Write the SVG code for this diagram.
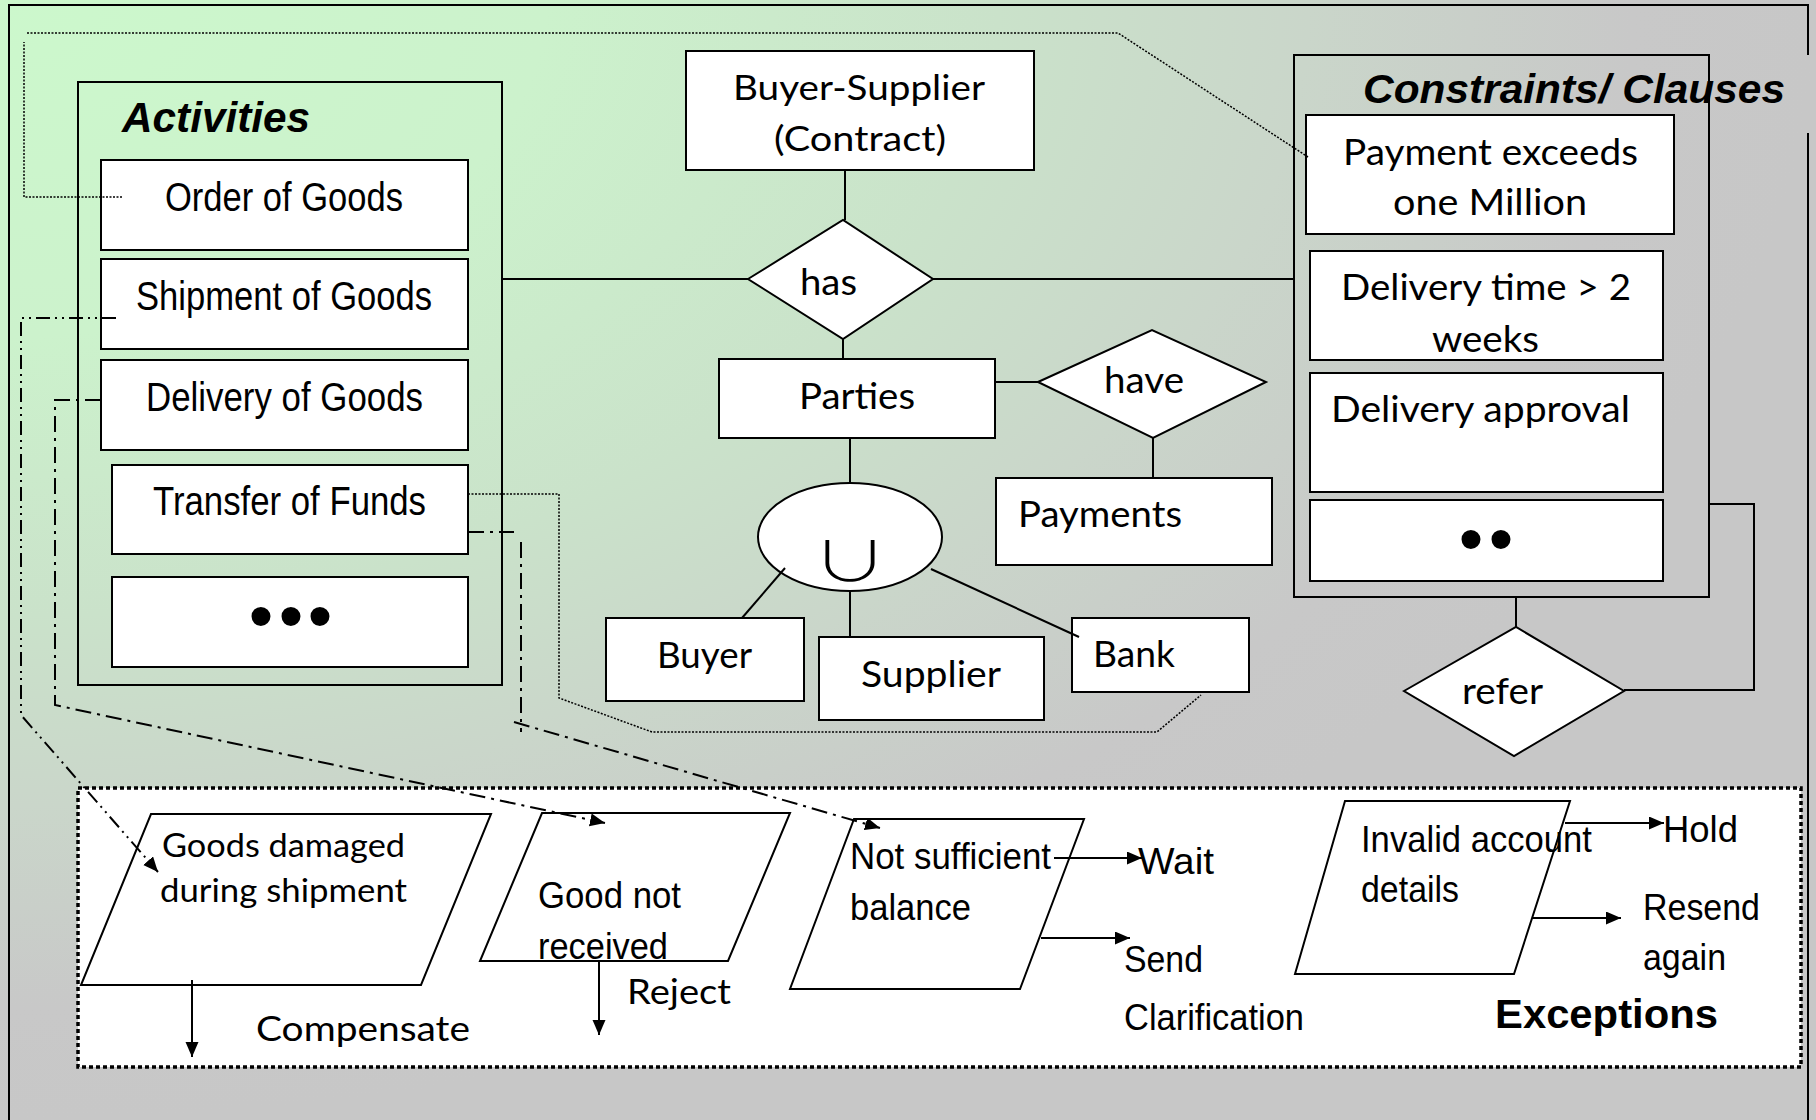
<svg xmlns="http://www.w3.org/2000/svg" width="1816" height="1120" viewBox="0 0 1816 1120">
<defs>
<radialGradient id="bg" cx="0" cy="0" r="1" gradientUnits="objectBoundingBox">
<stop offset="0" stop-color="#ccf8cc"/>
<stop offset="0.3" stop-color="#ccf2cc"/>
<stop offset="0.55" stop-color="#cae2ca"/>
<stop offset="0.72" stop-color="#cad6ca"/>
<stop offset="0.9" stop-color="#c8c8c8"/>
<stop offset="1" stop-color="#c7c7c7"/>
</radialGradient>
<marker id="ah" markerUnits="userSpaceOnUse" markerWidth="16" markerHeight="14" refX="15" refY="6.5" orient="auto">
<path d="M0,0 L15,6.5 L0,13 z" fill="#000"/>
</marker>
<style>
.box{fill:#fff;stroke:#000;stroke-width:2}
.grp{fill:none;stroke:#000;stroke-width:2}
.ln{fill:none;stroke:#000;stroke-width:2}
.dotl{fill:none;stroke:#000;stroke-width:1.5;stroke-dasharray:2 1.5}
.dd{fill:none;stroke:#000;stroke-width:2;stroke-dasharray:14 5 2 5 2 5}
.dash1{fill:none;stroke:#000;stroke-width:2;stroke-dasharray:16 6 3 6}
.exb{fill:#fff;stroke:#000;stroke-width:3.5;stroke-dasharray:4 3}
.ar{font-family:"Liberation Sans",Arial,sans-serif;fill:#000}
.cal{font-family:Lato,"Liberation Sans",sans-serif;fill:#000}
.bi{font-family:"Liberation Sans",Arial,sans-serif;font-weight:bold;font-style:italic;fill:#000}
.bul{font-family:"Liberation Sans",Arial,sans-serif;font-size:70px;text-anchor:middle;fill:#000}
</style>
</defs>
<rect x="0" y="0" width="1816" height="1120" fill="url(#bg)"/>
<path class="ln" d="M9,1120 V5 H1808 V55 M1808,133 V1120"/>

<g id="activities">
<rect class="grp" x="78" y="82" width="424" height="603"/>
<text class="bi" x="122" y="132" font-size="42" textLength="188" lengthAdjust="spacingAndGlyphs">Activities</text>
</g>
<g id="order-of-goods">
<rect class="box" x="101" y="160" width="367" height="90"/>
<text class="ar" x="165" y="211" font-size="40" textLength="238" lengthAdjust="spacingAndGlyphs">Order of Goods</text>
</g>
<g id="shipment-of-goods">
<rect class="box" x="101" y="259" width="367" height="90"/>
<text class="ar" x="136" y="310" font-size="40" textLength="296" lengthAdjust="spacingAndGlyphs">Shipment of Goods</text>
</g>
<g id="delivery-of-goods">
<rect class="box" x="101" y="360" width="367" height="90"/>
<text class="ar" x="146" y="411" font-size="40" textLength="277" lengthAdjust="spacingAndGlyphs">Delivery of Goods</text>
</g>
<g id="transfer-of-funds">
<rect class="box" x="112" y="465" width="356" height="89"/>
<text class="ar" x="153" y="515" font-size="40" textLength="273" lengthAdjust="spacingAndGlyphs">Transfer of Funds</text>
</g>
<g id="more-activities">
<rect class="box" x="112" y="577" width="356" height="90"/>
<text class="bul"><tspan x="261" y="640">•</tspan><tspan x="291" y="640">•</tspan><tspan x="320" y="640">•</tspan></text>
</g>

<g id="contract">
<rect class="box" x="686" y="51" width="348" height="119"/>
<text class="cal" x="733" y="100" font-size="35" textLength="252" lengthAdjust="spacingAndGlyphs">Buyer-Supplier</text>
<text class="cal" x="774" y="151" font-size="35" textLength="172" lengthAdjust="spacingAndGlyphs">(Contract)</text>
</g>
<g id="has">
<polygon class="box" points="748,279 843,220 933,279 843,339"/>
<text class="cal" x="800" y="295" font-size="37" textLength="57" lengthAdjust="spacingAndGlyphs">has</text>
</g>
<g id="parties">
<rect class="box" x="719" y="359" width="276" height="79"/>
<text class="cal" x="799" y="409" font-size="36" textLength="116" lengthAdjust="spacingAndGlyphs">Parties</text>
</g>
<g id="have">
<polygon class="box" points="1038,382 1152,330 1266,382 1153,438"/>
<text class="cal" x="1104" y="393" font-size="37" textLength="80" lengthAdjust="spacingAndGlyphs">have</text>
</g>
<g id="payments">
<rect class="box" x="996" y="478" width="276" height="87"/>
<text class="cal" x="1018" y="527" font-size="36" textLength="164" lengthAdjust="spacingAndGlyphs">Payments</text>
</g>
<g id="union">
<ellipse class="box" cx="850" cy="537" rx="92" ry="54"/>
<text transform="translate(850,581) scale(1,0.72)" x="0" y="0" font-family="'Noto Sans CJK JP','DejaVu Sans',sans-serif" font-size="76" font-weight="300" text-anchor="middle" fill="#000">∪</text>
</g>
<g id="buyer">
<rect class="box" x="606" y="618" width="198" height="83"/>
<text class="cal" x="657" y="668" font-size="36" textLength="95" lengthAdjust="spacingAndGlyphs">Buyer</text>
</g>
<g id="supplier">
<rect class="box" x="819" y="637" width="225" height="83"/>
<text class="cal" x="861" y="687" font-size="36" textLength="140" lengthAdjust="spacingAndGlyphs">Supplier</text>
</g>
<g id="bank">
<rect class="box" x="1072" y="618" width="177" height="74"/>
<text class="cal" x="1093" y="667" font-size="36" textLength="82" lengthAdjust="spacingAndGlyphs">Bank</text>
</g>

<g id="constraints">
<rect class="grp" x="1294" y="55" width="415" height="542"/>
<text class="bi" x="1363" y="103" font-size="41" textLength="422" lengthAdjust="spacingAndGlyphs">Constraints/ Clauses</text>
</g>
<g id="payment-exceeds">
<rect class="box" x="1306" y="115" width="368" height="119"/>
<text class="cal" x="1343" y="165" font-size="36" textLength="295" lengthAdjust="spacingAndGlyphs">Payment exceeds</text>
<text class="cal" x="1393" y="215" font-size="36" textLength="194" lengthAdjust="spacingAndGlyphs">one Million</text>
</g>
<g id="delivery-time">
<rect class="box" x="1310" y="251" width="353" height="109"/>
<text class="cal" x="1341" y="300" font-size="36" textLength="290" lengthAdjust="spacingAndGlyphs">Delivery time &gt; 2</text>
<text class="cal" x="1432" y="352" font-size="36" textLength="107" lengthAdjust="spacingAndGlyphs">weeks</text>
</g>
<g id="delivery-approval">
<rect class="box" x="1310" y="373" width="353" height="119"/>
<text class="cal" x="1331" y="422" font-size="36" textLength="299" lengthAdjust="spacingAndGlyphs">Delivery approval</text>
</g>
<g id="more-constraints">
<rect class="box" x="1310" y="500" width="353" height="81"/>
<text class="bul"><tspan x="1471" y="563">•</tspan><tspan x="1501" y="563">•</tspan></text>
</g>
<g id="refer">
<polygon class="box" points="1404,691 1516,627 1624,691 1514,756"/>
<text class="cal" x="1462" y="704" font-size="36" textLength="81" lengthAdjust="spacingAndGlyphs">refer</text>
</g>

<g id="exceptions">
<rect class="exb" x="78" y="788" width="1723" height="279"/>
<text class="ar" x="1495" y="1028" font-size="40" font-weight="bold" textLength="223" lengthAdjust="spacingAndGlyphs">Exceptions</text>
</g>
<g id="goods-damaged">
<polygon class="box" points="151,814 491,814 421,985 81,985"/>
<text class="cal" x="162" y="857" font-size="32" textLength="243" lengthAdjust="spacingAndGlyphs">Goods damaged</text>
<text class="cal" x="160" y="902" font-size="32" textLength="247" lengthAdjust="spacingAndGlyphs">during shipment</text>
<path class="ln" d="M192,980 V1057" marker-end="url(#ah)"/>
<text class="cal" x="256" y="1041" font-size="34" textLength="214" lengthAdjust="spacingAndGlyphs">Compensate</text>
</g>
<g id="good-not-received">
<polygon class="box" points="542,813 790,813 728,961 480,961"/>
<text class="ar" x="538" y="908" font-size="37" textLength="143" lengthAdjust="spacingAndGlyphs">Good not</text>
<text class="ar" x="538" y="959" font-size="37" textLength="130" lengthAdjust="spacingAndGlyphs">received</text>
<path class="ln" d="M599,961 V1035" marker-end="url(#ah)"/>
<text class="cal" x="627" y="1004" font-size="34" textLength="104" lengthAdjust="spacingAndGlyphs">Reject</text>
</g>
<g id="not-sufficient">
<polygon class="box" points="854,819 1084,819 1020,989 790,989"/>
<text class="ar" x="850" y="869" font-size="37" textLength="201" lengthAdjust="spacingAndGlyphs">Not sufficient</text>
<text class="ar" x="850" y="920" font-size="37" textLength="121" lengthAdjust="spacingAndGlyphs">balance</text>
<path class="ln" d="M1054,858 H1142" marker-end="url(#ah)"/>
<text class="ar" x="1138" y="874" font-size="36" textLength="76" lengthAdjust="spacingAndGlyphs">Wait</text>
<path class="ln" d="M1041,938 H1130" marker-end="url(#ah)"/>
<text class="ar" x="1124" y="972" font-size="37" textLength="79" lengthAdjust="spacingAndGlyphs">Send</text>
<text class="ar" x="1124" y="1030" font-size="37" textLength="180" lengthAdjust="spacingAndGlyphs">Clarification</text>
</g>
<g id="invalid-account">
<polygon class="box" points="1345,801 1570,801 1514,974 1295,974"/>
<text class="ar" x="1361" y="852" font-size="37" textLength="231" lengthAdjust="spacingAndGlyphs">Invalid account</text>
<text class="ar" x="1361" y="902" font-size="37" textLength="98" lengthAdjust="spacingAndGlyphs">details</text>
<path class="ln" d="M1565,823 H1664" marker-end="url(#ah)"/>
<text class="ar" x="1663" y="842" font-size="36" textLength="75" lengthAdjust="spacingAndGlyphs">Hold</text>
<path class="ln" d="M1532,918 H1621" marker-end="url(#ah)"/>
<text class="ar" x="1643" y="920" font-size="37" textLength="117" lengthAdjust="spacingAndGlyphs">Resend</text>
<text class="ar" x="1643" y="970" font-size="37" textLength="83" lengthAdjust="spacingAndGlyphs">again</text>
</g>

<g id="connectors">
<path class="ln" d="M502,279 H748"/>
<path class="ln" d="M933,279 H1294"/>
<path class="ln" d="M845,170 V220"/>
<path class="ln" d="M843,339 V359"/>
<path class="ln" d="M995,382 H1039"/>
<path class="ln" d="M1153,438 V478"/>
<path class="ln" d="M850,438 V483"/>
<path class="ln" d="M785,568 L742,618"/>
<path class="ln" d="M850,591 V637"/>
<path class="ln" d="M931,569 L1079,637"/>
<path class="ln" d="M1516,597 V627"/>
<path class="ln" d="M1709,504 H1754 V690 H1624"/>
<path class="dotl" d="M122,197 H24 V42 M27,33 H1118 L1308,157"/>
<path class="dotl" d="M468,494 H559 V698 L652,732 H1157 L1201,695"/>
<path class="dd" d="M116,318 H21 V715 L158,872" marker-end="url(#ah)"/>
<path class="dash1" d="M101,400 H55 V705 L605,823" marker-end="url(#ah)"/>
<path class="dash1" d="M468,532 H514 M521,542 V732 M514,722 L880,828" marker-end="url(#ah)"/>
</g>
</svg>
